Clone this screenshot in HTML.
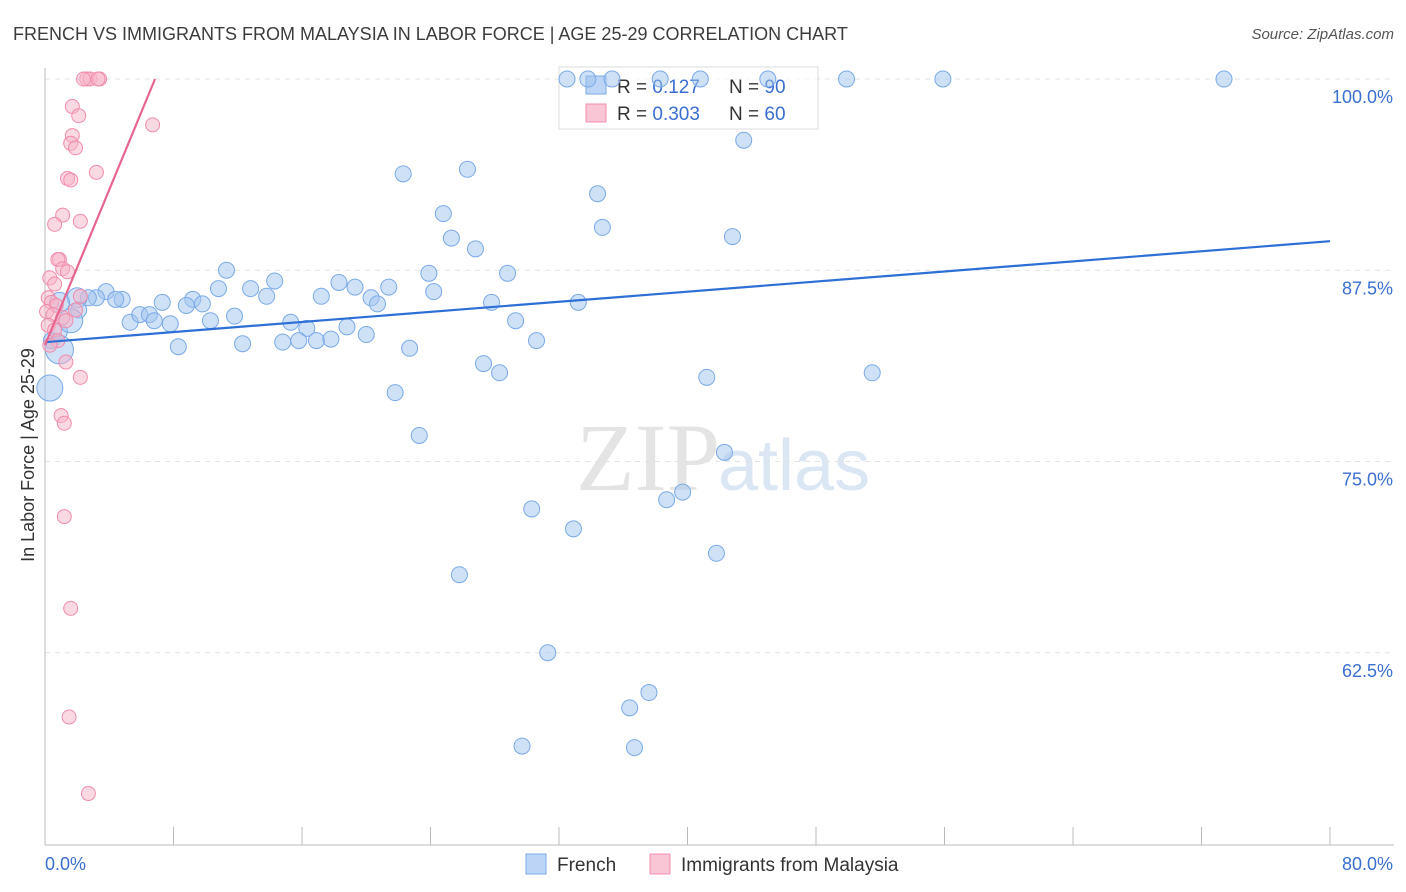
<!DOCTYPE html>
<html><head><meta charset="utf-8">
<style>
body{margin:0;background:#fff;font-family:"Liberation Sans",sans-serif;}
#wrap{position:relative;width:1406px;height:892px;overflow:hidden;}
</style></head>
<body>
<div id="wrap">
<svg id="chart" width="1406" height="892" xmlns="http://www.w3.org/2000/svg">
<text x="13" y="40" font-size="18" fill="#3c3c3c">FRENCH VS IMMIGRANTS FROM MALAYSIA IN LABOR FORCE | AGE 25-29 CORRELATION CHART</text>
<text x="1394" y="39" font-size="15" fill="#555" font-style="italic" text-anchor="end">Source: ZipAtlas.com</text>
<text x="720" y="490" font-size="96" fill="#e4e4e4" font-family="Liberation Serif,serif" text-anchor="end">ZIP</text>
<text x="718" y="490" font-size="72" fill="#dbe6f5">atlas</text>
<g id="grid"></g>
<g id="axes"></g>
<g>
<rect x="559" y="67" width="259" height="62" fill="#fff" fill-opacity="0.7" stroke="#ddd"/>
<rect x="586" y="76" width="20" height="18" fill="#bcd4f5" stroke="#7aaae8"/>
<rect x="586" y="104" width="20" height="18" fill="#f9c6d5" stroke="#f08cab"/>
<text x="617" y="93" font-size="19" fill="#333">R = <tspan fill="#3a6fd0">0.127</tspan></text>
<text x="729" y="93" font-size="19" fill="#333">N = <tspan fill="#3a6fd0">90</tspan></text>
<text x="617" y="120" font-size="19" fill="#333">R = <tspan fill="#3a6fd0">0.303</tspan></text>
<text x="729" y="120" font-size="19" fill="#333">N = <tspan fill="#3a6fd0">60</tspan></text>
</g>
<g id="marks"></g>
<text transform="translate(34,455) rotate(-90)" font-size="18" fill="#333" text-anchor="middle">In Labor Force | Age 25-29</text>
<text x="45" y="870" font-size="18" fill="#3a6fd0">0.0%</text>
<text x="1393" y="870" font-size="18" fill="#3a6fd0" text-anchor="end">80.0%</text>
<g>
<rect x="526" y="854" width="20" height="20" fill="#bcd4f5" stroke="#7aaae8"/>
<text x="557" y="871" font-size="19" fill="#333">French</text>
<rect x="650" y="854" width="20" height="20" fill="#f9c6d5" stroke="#f08cab"/>
<text x="681" y="871" font-size="19" fill="#333">Immigrants from Malaysia</text>
</g>
</svg>
</div>
<script>
const yTicks=[100,87.5,75,62.5];
const yTickLabels=["100.0%","87.5%","75.0%","62.5%"];
const xTicks=[0,8,16,24,32,40,48,56,64,72,80];
const blueX=[32.5,33.8,35.3,38.3,40.8,45.0,49.9,55.9,73.4,43.5,22.3,26.3,34.4,24.8,34.7,25.3,26.8,42.8,11.3,14.3,23.9,28.8,18.3,19.3,21.4,24.2,12.8,10.8,13.8,17.2,20.3,20.7,27.8,33.2,7.3,9.2,8.8,9.8,4.8,3.8,3.2,2.7,2.0,4.4,0.9,2.1,5.3,5.9,6.5,6.8,7.8,10.3,11.8,15.3,16.3,18.8,20.0,29.3,8.3,12.3,14.8,15.8,16.9,17.8,22.7,30.6,0.9,1.6,0.4,0.9,27.3,28.3,41.2,51.5,21.8,23.3,42.3,39.7,38.7,30.3,32.9,41.8,25.8,31.3,37.6,36.4,29.7,36.7,0.3];
const blueY=[100,100,100,100,100,100,100,100,100,96.0,93.8,94.1,92.5,91.2,90.3,89.6,88.9,89.7,87.5,86.8,87.3,87.3,86.7,86.4,86.4,86.1,86.3,86.3,85.8,85.8,85.7,85.3,85.4,85.4,85.4,85.6,85.2,85.3,85.6,86.1,85.7,85.7,85.7,85.6,85.4,84.9,84.1,84.6,84.6,84.2,84.0,84.2,84.5,84.1,83.7,83.8,83.3,84.2,82.5,82.7,82.8,82.9,82.9,83.0,82.4,82.9,83.5,84.2,82.9,82.3,81.4,80.8,80.5,80.8,79.5,76.7,75.6,73.0,72.5,71.9,70.6,69.0,67.6,62.5,59.9,58.9,56.4,56.3,79.8];
const blueBig=[[0.3,79.8,13],[0.9,82.3,14],[1.6,84.2,12],[2.0,85.7,10],[0.9,85.4,10]];
const pinkX=[2.6,2.8,3.4,3.3,2.4,1.7,2.1,6.7,1.7,1.6,1.9,3.2,1.4,1.6,1.1,2.2,0.6,0.9,0.8,1.1,1.4,0.3,0.6,0.2,0.4,0.7,0.1,0.5,1.1,1.3,0.2,0.6,0.8,0.3,1.3,2.2,1.0,1.2,1.2,1.6,1.5,2.7,2.2,1.9];
const pinkY=[100,100,100,100,100,98.2,97.6,97.0,96.3,95.8,95.5,93.9,93.5,93.4,91.1,90.7,90.5,88.2,88.2,87.6,87.4,87.0,86.6,85.7,85.4,85.2,84.8,84.6,84.4,84.2,83.9,83.6,82.9,82.6,81.5,80.5,78.0,77.5,71.4,65.4,58.3,53.3,85.8,84.9];
const blueTrend=[[0,82.8],[80,89.4]];
const pinkTrend=[[0,82.6],[6.85,100]];

const NS="http://www.w3.org/2000/svg";
const xs=v=>45+v*(1285/80);
const ys=v=>79+(100-v)*15.3;
function mk(tag,attrs,parent){const e=document.createElementNS(NS,tag);for(const k in attrs)e.setAttribute(k,attrs[k]);parent.appendChild(e);return e;}
const grid=document.getElementById('grid'),axes=document.getElementById('axes'),marks=document.getElementById('marks');
yTicks.forEach((t,i)=>{
 const l=mk('line',{x1:45,x2:1394,y1:ys(t),y2:ys(t),stroke:'#e2e2e2','stroke-dasharray':'5,5'},grid);
 
 
 const tx=mk('text',{x:1393,y:ys(t)+24,'font-size':18,fill:'#3a6fd0','text-anchor':'end'},grid);
 tx.textContent=yTickLabels[i];
 
 
});
const xa=mk('line',{x1:45,x2:1394,y1:845,y2:845,stroke:'#bbb'},axes);


const ya=mk('line',{x1:45,x2:45,y1:68,y2:845,stroke:'#bbb'},axes);


xTicks.forEach(t=>{
 const l=mk('line',{x1:xs(t),x2:xs(t),y1:827,y2:845,stroke:'#bbb'},axes);
 
 
});
blueX.forEach((x,i)=>{
 let r=8;blueBig.forEach(b=>{if(b[0]===x&&b[1]===blueY[i])r=b[2];});
 const c=mk('circle',{cx:xs(x),cy:ys(blueY[i]),r:r,fill:'rgba(160,196,240,0.5)',stroke:'#7aaae8','stroke-width':1},marks);
 
 
});
pinkX.forEach((x,i)=>{
 const c=mk('circle',{cx:xs(x),cy:ys(pinkY[i]),r:7,fill:'rgba(248,180,200,0.5)',stroke:'#f08cab','stroke-width':1},marks);
 
 
});
const bt=mk('line',{x1:xs(blueTrend[0][0]),y1:ys(blueTrend[0][1]),x2:xs(blueTrend[1][0]),y2:ys(blueTrend[1][1]),stroke:'#2e6fd6','stroke-width':2.2},marks);


const pt=mk('line',{x1:xs(pinkTrend[0][0]),y1:ys(pinkTrend[0][1]),x2:xs(pinkTrend[1][0]),y2:ys(pinkTrend[1][1]),stroke:'#e8658f','stroke-width':2.2},marks);


</script>
</body></html>
